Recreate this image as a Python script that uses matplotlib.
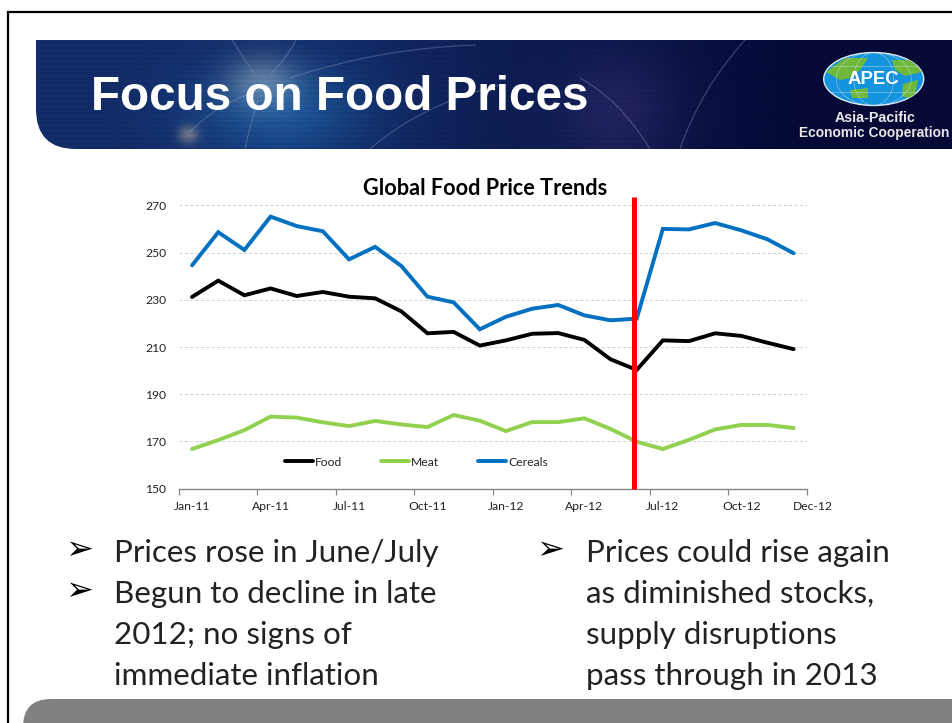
import numpy as np
import matplotlib
matplotlib.use("Agg")
import matplotlib.pyplot as plt
from matplotlib.patches import Ellipse, Polygon, PathPatch
from matplotlib.path import Path

months = ["Jan-11","Feb-11","Mar-11","Apr-11","May-11","Jun-11","Jul-11","Aug-11","Sep-11","Oct-11","Nov-11","Dec-11",
          "Jan-12","Feb-12","Mar-12","Apr-12","May-12","Jun-12","Jul-12","Aug-12","Sep-12","Oct-12","Nov-12","Dec-12"]
food = [231.2,238.1,231.9,234.8,231.6,233.3,231.3,230.6,225.1,215.8,216.4,210.6,
        212.8,215.6,215.9,213.0,204.8,200.3,212.8,212.5,215.8,214.7,211.8,209.1]
meat = [166.8,170.6,174.8,180.5,180.1,178.1,176.5,178.7,177.2,176.1,181.2,178.8,
        174.4,178.2,178.2,179.8,175.3,169.9,166.8,170.7,175.1,177.0,177.0,175.7]
cereals = [244.6,258.6,251.1,265.2,261.2,259.0,247.1,252.4,244.3,231.3,228.9,217.5,
           222.8,226.2,227.8,223.4,221.3,222.0,260.0,259.8,262.5,259.4,255.6,249.7]
y_ticks = [150,170,190,210,230,250,270]
x_labels = ["Jan-11","Apr-11","Jul-11","Oct-11","Jan-12","Apr-12","Jul-12","Oct-12"]
x_label_pos = [0,3,6,9,12,15,18,21]
last_label = "Dec-12"
last_label_pos = 23.75
marker_month = 16.91
marker_top = 273.5

title = "Focus on Food Prices"
chart_title = "Global Food Price Trends"
left_lines = [("➢","Prices rose in June/July"),("➢","Begun to decline in late"),("","2012; no signs of"),("","immediate inflation")]
right_lines = [("➢","Prices could rise again"),("","as diminished stocks,"),("","supply disruptions"),("","pass through in 2013")]

W, H = 952, 723
fig = plt.figure(figsize=(W/100, H/100), dpi=100, facecolor="white")
bg = fig.add_axes([0,0,1,1])
bg.set_xlim(0,W); bg.set_ylim(H,0); bg.axis("off")

# frame
bg.plot([8,8,W+5],[H+5,12,12],color="#000000",lw=1.6,solid_joinstyle="miter")

# header
hx0,hx1,hy0,hy1 = 36,W,40,149
yy,xx = np.mgrid[hy0:hy1,hx0:hx1].astype(float)
def g(cx,cy,sx,sy): return np.exp(-((xx-cx)/sx)**2-((yy-cy)/sy)**2)
base = np.array([18,42,100.])[None,None,:]*np.ones(xx.shape+(3,))
t = np.clip((xx-300)/500,0,1)[...,None]
base = base*(1-t)+np.array([5,9,52.])*t
base += g(280,110,90,50)[...,None]*np.array([8,38,45.])
base += g(262,82,36,26)[...,None]*np.array([68,56,30.])
base += g(188,134,10,9)[...,None]*np.array([85,60,20.])
base += g(620,110,60,60)[...,None]*np.array([22,12,22.])
base[(np.arange(hy0,hy1)%5<2),:,:] *= 1.06
img = np.clip(base,0,255).astype(np.uint8)
im = bg.imshow(img,extent=(hx0,hx1,hy1,hy0),aspect="auto",zorder=1,interpolation="bilinear")
r = 40
verts = [(hx0,hy0),(hx1,hy0),(hx1,hy1),(hx0+r,hy1),(hx0,hy1),(hx0,hy1-r),(hx0,hy0)]
codes = [Path.MOVETO,Path.LINETO,Path.LINETO,Path.LINETO,Path.CURVE3,Path.CURVE3,Path.CLOSEPOLY]
clip = PathPatch(Path(verts,codes),transform=bg.transData,fc="none",ec="none")
bg.add_patch(clip); im.set_clip_path(clip)
bg.set_xlim(0,W); bg.set_ylim(H,0)

for (p0,p1,p2) in [((190,132),(215,105),(260,90)),((290,78),(380,48),(476,45)),((370,149),(420,105),(500,85)),
                   ((680,149),(700,90),(745,40)),((650,149),(620,100),(580,78)),((232,40),(245,60),(255,75)),
                   ((296,40),(285,60),(270,75)),((245,149),(250,125),(258,100))]:
    q = PathPatch(Path([p0,p1,p2],[Path.MOVETO,Path.CURVE3,Path.CURVE3]),fc="none",ec="#8f9fc0",lw=0.9,alpha=0.35,zorder=2)
    bg.add_patch(q)

bg.text(91,98,title,family="Liberation Sans",fontweight="bold",fontsize=34.3,color="white",va="center",ha="left",zorder=3)

# logo
cx,cy = 873.7,79
globe = Ellipse((cx,cy),100,53,fc="#1593dc",ec="#dfe8f5",lw=1.0,zorder=3)
bg.add_patch(globe)
for pts in [[(826,72),(845,58),(868,58),(860,70),(850,78),(840,80)],
            [(850,90),(868,88),(868,98),(852,98)],
            [(892,60),(912,60),(922,72),(905,76),(895,70)],
            [(903,84),(918,80),(914,100),(902,96)]]:
    pg = Polygon(pts,fc="#6fb83a",ec="none",zorder=4); bg.add_patch(pg); pg.set_clip_path(globe)
for w in [40,75]:
    e = Ellipse((cx,cy),w,53,fc="none",ec="#cfe6f7",lw=0.4,alpha=0.7,zorder=4); bg.add_patch(e); e.set_clip_path(globe)
for yl in [66,92]:
    l, = bg.plot([cx-50,cx+50],[yl,yl],color="#cfe6f7",lw=0.4,alpha=0.7,zorder=4); l.set_clip_path(globe)
bg.text(cx,79,"APEC",family="Liberation Sans",fontweight="bold",fontsize=13.4,color="white",ha="center",va="center",zorder=5)
bg.text(875,117.5,"Asia-Pacific",family="Liberation Sans",fontweight="bold",fontsize=10.3,color="#e8e8e8",ha="center",va="center",zorder=5)
bg.text(874,132.5,"Economic Cooperation",family="Liberation Sans",fontweight="bold",fontsize=9.95,color="#e8e8e8",ha="center",va="center",zorder=5)

# footer
fx0,fy0,fr = 23,699,28
fv = [(fx0,H+5),(fx0,fy0+fr),(fx0,fy0),(fx0+fr,fy0),(W+5,fy0),(W+5,H+5),(fx0,H+5)]
fc = [Path.MOVETO,Path.LINETO,Path.CURVE3,Path.CURVE3,Path.LINETO,Path.LINETO,Path.CLOSEPOLY]
bg.add_patch(PathPatch(Path(fv,fc),fc="#808080",ec="none",zorder=2))

# bullets
FAM = ["Lato","DejaVu Sans"]
line_y = [553,594,635,676]
for (b,s),y in zip(left_lines,line_y):
    if b: bg.text(65,y-3,b,family=["DejaVu Sans"],fontsize=24,ha="left",va="center",color="#000000")
    bg.text(114,y,s,family=FAM,fontsize=22.6,ha="left",va="center",color="#222222")
for (b,s),y in zip(right_lines,line_y):
    if b: bg.text(536,y-3,b,family=["DejaVu Sans"],fontsize=24,ha="left",va="center",color="#000000")
    bg.text(586,y,s,family=FAM,fontsize=22.6,ha="left",va="center",color="#222222")

# chart
ax = fig.add_axes([179/W,1-488.7/H,(806.7-179)/W,(488.7-205.3)/H])
ax.patch.set_alpha(0)
x = np.arange(len(months))
ax.plot(x,food,color="#000000",lw=2.8,label="Food",solid_capstyle="round",solid_joinstyle="miter",zorder=3)
ax.plot(x,meat,color="#92d050",lw=2.8,label="Meat",solid_capstyle="round",solid_joinstyle="miter",zorder=3)
ax.plot(x,cereals,color="#0070c0",lw=2.8,label="Cereals",solid_capstyle="round",solid_joinstyle="miter",zorder=3)
ax.plot([marker_month,marker_month],[y_ticks[0],marker_top],color="#ff0000",lw=3.6,solid_capstyle="butt",clip_on=False,zorder=4)
ax.set_yticks(y_ticks)
ax.set_xticks(np.arange(-0.5,24,3))
ax.set_xticks(x_label_pos,minor=True)
ax.set_xticklabels([])
ax.set_xticklabels(x_labels,minor=True,family="Lato",fontsize=8.7,color="#222222")
ax.set_xlim(-0.5,23.5); ax.set_ylim(150,270)
ax.tick_params(axis="x",which="major",length=4,width=0.9,color="#868686")
ax.tick_params(axis="x",which="minor",length=0,pad=9)
ax.tick_params(axis="y",length=0,pad=9,labelsize=8.7,labelcolor="#222222")
for l in ax.get_yticklabels(): l.set_family("Lato")
ax.annotate(last_label,(last_label_pos,0),xycoords=ax.get_xaxis_transform(),xytext=(0,-9),textcoords="offset points",
            family="Lato",fontsize=8.7,color="#222222",ha="center",va="top",annotation_clip=False)
ax.grid(axis="y",color="#d0d0d0",lw=0.7,ls=(0,(3,2.5)))
for s in ["top","left","right"]: ax.spines[s].set_visible(False)
ax.spines["bottom"].set_color("#868686"); ax.spines["bottom"].set_linewidth(1.0)
ax.set_axisbelow(True)
leg = ax.legend(loc="center left",bbox_to_anchor=((285-179)/627.7,(488.7-462)/283.4),ncol=3,frameon=False,
                handlelength=2.3,handletextpad=0.2,columnspacing=3.2,borderpad=0,borderaxespad=0,
                prop={"family":"Lato","size":8.7})
for t_ in leg.get_texts(): t_.set_color("#222222")
fig.text(485.5/W,1-188.5/H,chart_title,family="Lato",fontweight="bold",fontsize=15.6,ha="center",va="center",color="#000000")

fig.savefig("out.png",dpi=100)
